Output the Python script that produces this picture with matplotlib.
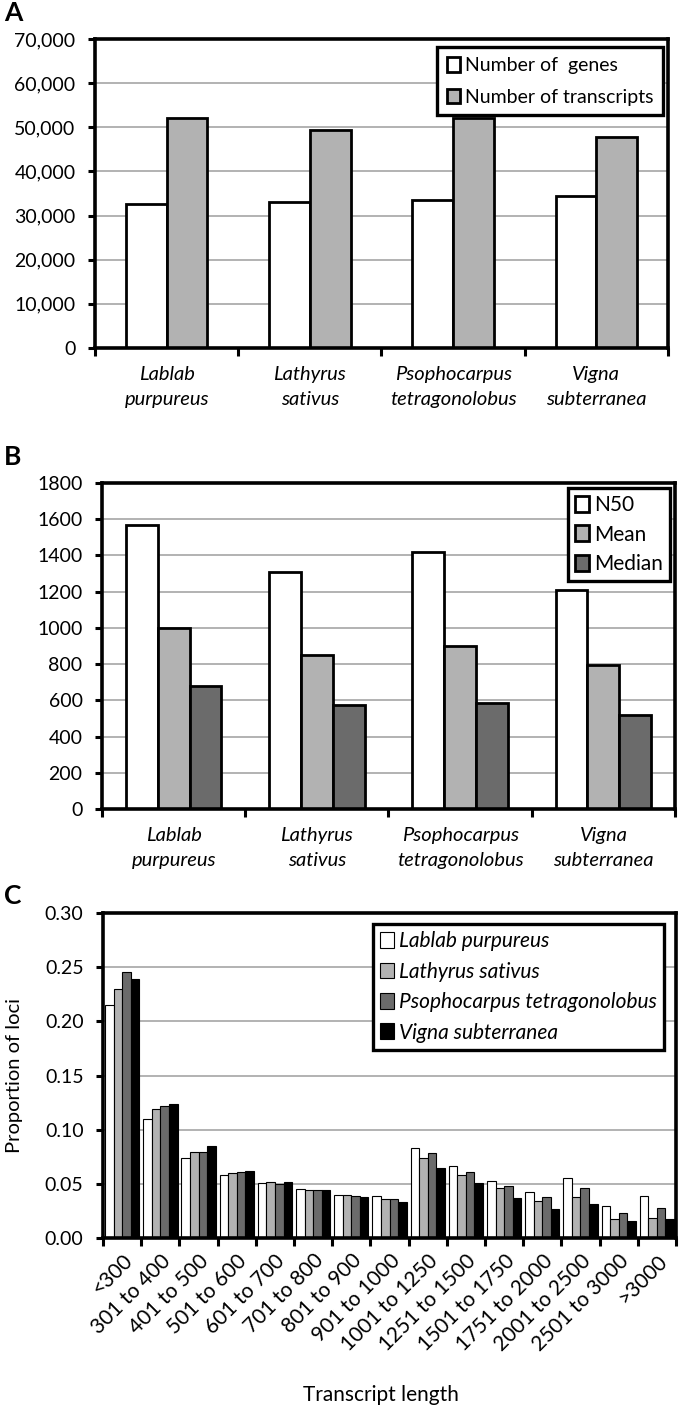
import numpy as np
import matplotlib.pyplot as plt
from matplotlib.ticker import FuncFormatter

plt.rcParams['font.family'] = ['Lato', 'DejaVu Sans']

species = ['Lablab\npurpureus', 'Lathyrus\nsativus', 'Psophocarpus\ntetragonolobus', 'Vigna\nsubterranea']
species_full = ['Lablab purpureus', 'Lathyrus sativus', 'Psophocarpus tetragonolobus', 'Vigna subterranea']

# panel A
n_genes = [32500, 33100, 33600, 34400]
n_transcripts = [52050, 49300, 52150, 47850]

# panel B
n50 = [1570, 1310, 1420, 1210]
mean_len = [998, 849, 899, 793]
median_len = [682, 572, 583, 517]

# panel C
length_bins = ['<300', '301 to 400', '401 to 500', '501 to 600', '601 to 700', '701 to 800',
               '801 to 900', '901 to 1000', '1001 to 1250', '1251 to 1500', '1501 to 1750',
               '1751 to 2000', '2001 to 2500', '2501 to 3000', '>3000']
prop_lablab = [0.215, 0.110, 0.074, 0.058, 0.051, 0.045, 0.0396, 0.0384, 0.083, 0.0666,
               0.0527, 0.0427, 0.0555, 0.0293, 0.0387]
prop_lathyrus = [0.230, 0.119, 0.0795, 0.0596, 0.0518, 0.0439, 0.0396, 0.0363, 0.074, 0.058,
                 0.0463, 0.0345, 0.0381, 0.0171, 0.0186]
prop_psopho = [0.246, 0.122, 0.079, 0.061, 0.0503, 0.0445, 0.039, 0.0357, 0.0786, 0.0613,
               0.0482, 0.0378, 0.0463, 0.0235, 0.0274]
prop_vigna = [0.239, 0.1238, 0.0847, 0.0622, 0.0515, 0.0445, 0.0378, 0.0329, 0.0648, 0.0506,
              0.0369, 0.0265, 0.0311, 0.0155, 0.0174]

GRID = '#a6a6a6'
LIGHT = '#b2b2b2'
DARK = '#6b6b6b'


def excel_style(ax, ncat, ymax, ystep):
    for s in ax.spines.values():
        s.set_linewidth(2.6)
    ax.set_xlim(-0.5, ncat - 0.5)
    ax.set_ylim(0, ymax)
    ax.set_yticks(np.arange(0, ymax + ystep / 2, ystep))
    ax.yaxis.grid(True, color=GRID, linewidth=1.2)
    ax.set_axisbelow(True)
    ax.set_xticks(np.arange(ncat))
    ax.set_xticks(np.arange(ncat + 1) - 0.5, minor=True)
    ax.tick_params(axis='x', which='major', length=0, pad=13)
    ax.tick_params(axis='x', which='minor', length=6, width=2.2, direction='out')
    ax.tick_params(axis='y', length=5, width=2.2, direction='out', labelsize=14, pad=9)


def make_legend(ax, anchor, size, spacing, bpad, italic=False):
    prop = {'size': size}
    if italic:
        prop['style'] = 'italic'
    leg = ax.legend(loc='upper right', bbox_to_anchor=anchor, borderaxespad=0, prop=prop,
                    frameon=True, fancybox=False, framealpha=1, edgecolor='black',
                    handlelength=0.65, handleheight=0.8, handletextpad=0.25,
                    borderpad=bpad, labelspacing=spacing)
    leg.get_frame().set_linewidth(2.4)
    return leg


fig = plt.figure(figsize=(6.8, 14.07), dpi=100)

# ---- A ----
axA = fig.add_axes([0.1397, 0.7527, 0.8426, 0.2196])
x = np.arange(4)
w = 0.285
axA.bar(x - w / 2, n_genes, w, color='white', edgecolor='black', linewidth=2, label='Number of  genes')
axA.bar(x + w / 2, n_transcripts, w, color=LIGHT, edgecolor='black', linewidth=2, label='Number of transcripts')
excel_style(axA, 4, 70000, 10000)
axA.yaxis.set_major_formatter(FuncFormatter(lambda v, p: f'{int(v):,}'))
axA.set_xticklabels(species, fontsize=14.5, style='italic', linespacing=1.55)
make_legend(axA, (0.991, 0.974), 14, 0.75, 0.5)
fig.text(0.006, 0.991, 'A', fontsize=19, fontweight='bold', va='center')

# ---- B ----
axB = fig.add_axes([0.150, 0.425, 0.8426, 0.2317])
w = 0.222
axB.bar(x - w, n50, w, color='white', edgecolor='black', linewidth=2, label='N50')
axB.bar(x, mean_len, w, color=LIGHT, edgecolor='black', linewidth=2, label='Mean')
axB.bar(x + w, median_len, w, color=DARK, edgecolor='black', linewidth=2, label='Median')
excel_style(axB, 4, 1800, 200)
axB.set_xticklabels(species, fontsize=14.5, style='italic', linespacing=1.55)
make_legend(axB, (0.992, 0.985), 15, 0.45, 0.35)
fig.text(0.006, 0.675, 'B', fontsize=19, fontweight='bold', va='center')

# ---- C ----
axC = fig.add_axes([0.1515, 0.1201, 0.8426, 0.231])
xc = np.arange(len(length_bins))
w = 0.225
series = [(prop_lablab, 'white'), (prop_lathyrus, LIGHT), (prop_psopho, DARK), (prop_vigna, 'black')]
for i, ((vals, col), name) in enumerate(zip(series, species_full)):
    axC.bar(xc + (i - 1.5) * w, vals, w, color=col, edgecolor='black', linewidth=0.8, label=name)
excel_style(axC, len(length_bins), 0.30, 0.05)
axC.yaxis.set_major_formatter(FuncFormatter(lambda v, p: f'{v:.2f}'))
axC.set_xticklabels(length_bins, fontsize=15, rotation=45, ha='right', rotation_mode='anchor')
axC.tick_params(axis='x', which='major', pad=9)
make_legend(axC, (0.979, 0.966), 15, 0.5, 0.35, italic=True)
axC.set_ylabel('Proportion of loci', fontsize=14.5, labelpad=16)
fig.text(0.56, 0.0085, 'Transcript length', fontsize=15, ha='center', va='center')
fig.text(0.006, 0.363, 'C', fontsize=19, fontweight='bold', va='center')

fig.savefig('out.png', dpi=100)
